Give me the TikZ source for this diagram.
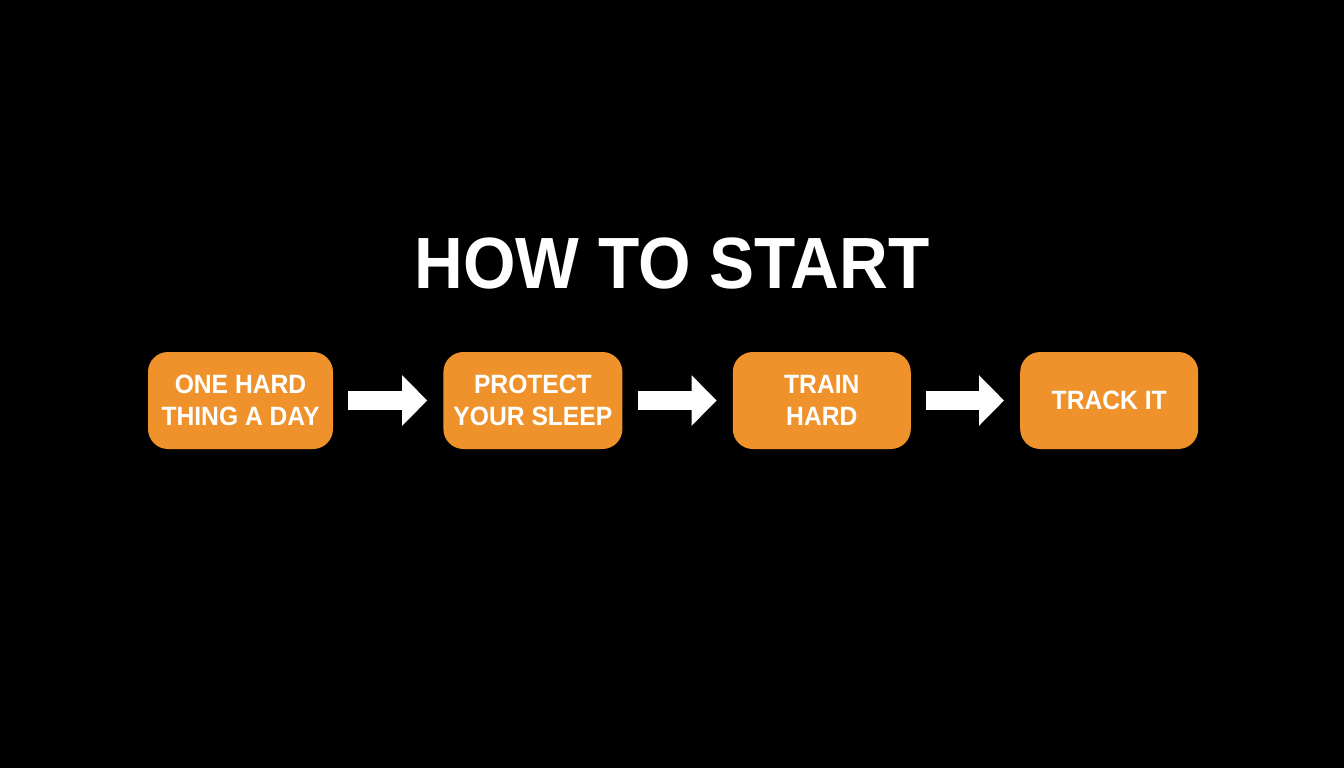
\documentclass[tikz,border=0pt]{standalone}
\usepackage{fontspec}
\setmainfont{Liberation Sans}[FakeStretch=0.93]
\usetikzlibrary{arrows.meta,positioning}
\definecolor{stepfill}{RGB}{240,146,43}
\tikzset{
  stepbox/.style={rectangle, rounded corners=20pt, fill=stepfill, draw=none,
                  minimum height=97pt, minimum width=178pt, inner sep=0pt,
                  align=center, text=white, font=\fontsize{26.5}{32}\selectfont\bfseries},
  ar/.style={-{Triangle[length=25pt,width=49pt]}, line width=19pt, draw=white,
             shorten <=15pt, shorten >=16pt},
  ttl/.style={font=\fontsize{72.6}{80}\selectfont\bfseries, text=white, inner sep=0pt},
}

\begin{document}
\begin{tikzpicture}[x=1pt,y=-1pt]

% ===================== CANVAS =====================
\fill[black] (0,0) rectangle (1344,768);
\useasboundingbox (0,0) rectangle (1344,768);

% ===================== TITLE =====================
\node[ttl, anchor=base] (title) at (672,288) {HOW TO START};

% ===================== THE FOUR STEPS =====================
\node[stepbox, minimum width=185pt] (s1) at (240.5,400.5) {ONE HARD\\THING A DAY};
\node[stepbox, minimum width=179pt, right=110pt of s1] (s2) {PROTECT\\YOUR SLEEP};
\node[stepbox, right=110pt of s2] (s3) {TRAIN\\HARD};
\node[stepbox, right=109pt of s3] (s4) {TRACK IT};

\foreach \a/\b in {s1/s2,s2/s3,s3/s4}
  \draw[ar] (\a.east) -- (\b.west);

\end{tikzpicture}
\end{document}
